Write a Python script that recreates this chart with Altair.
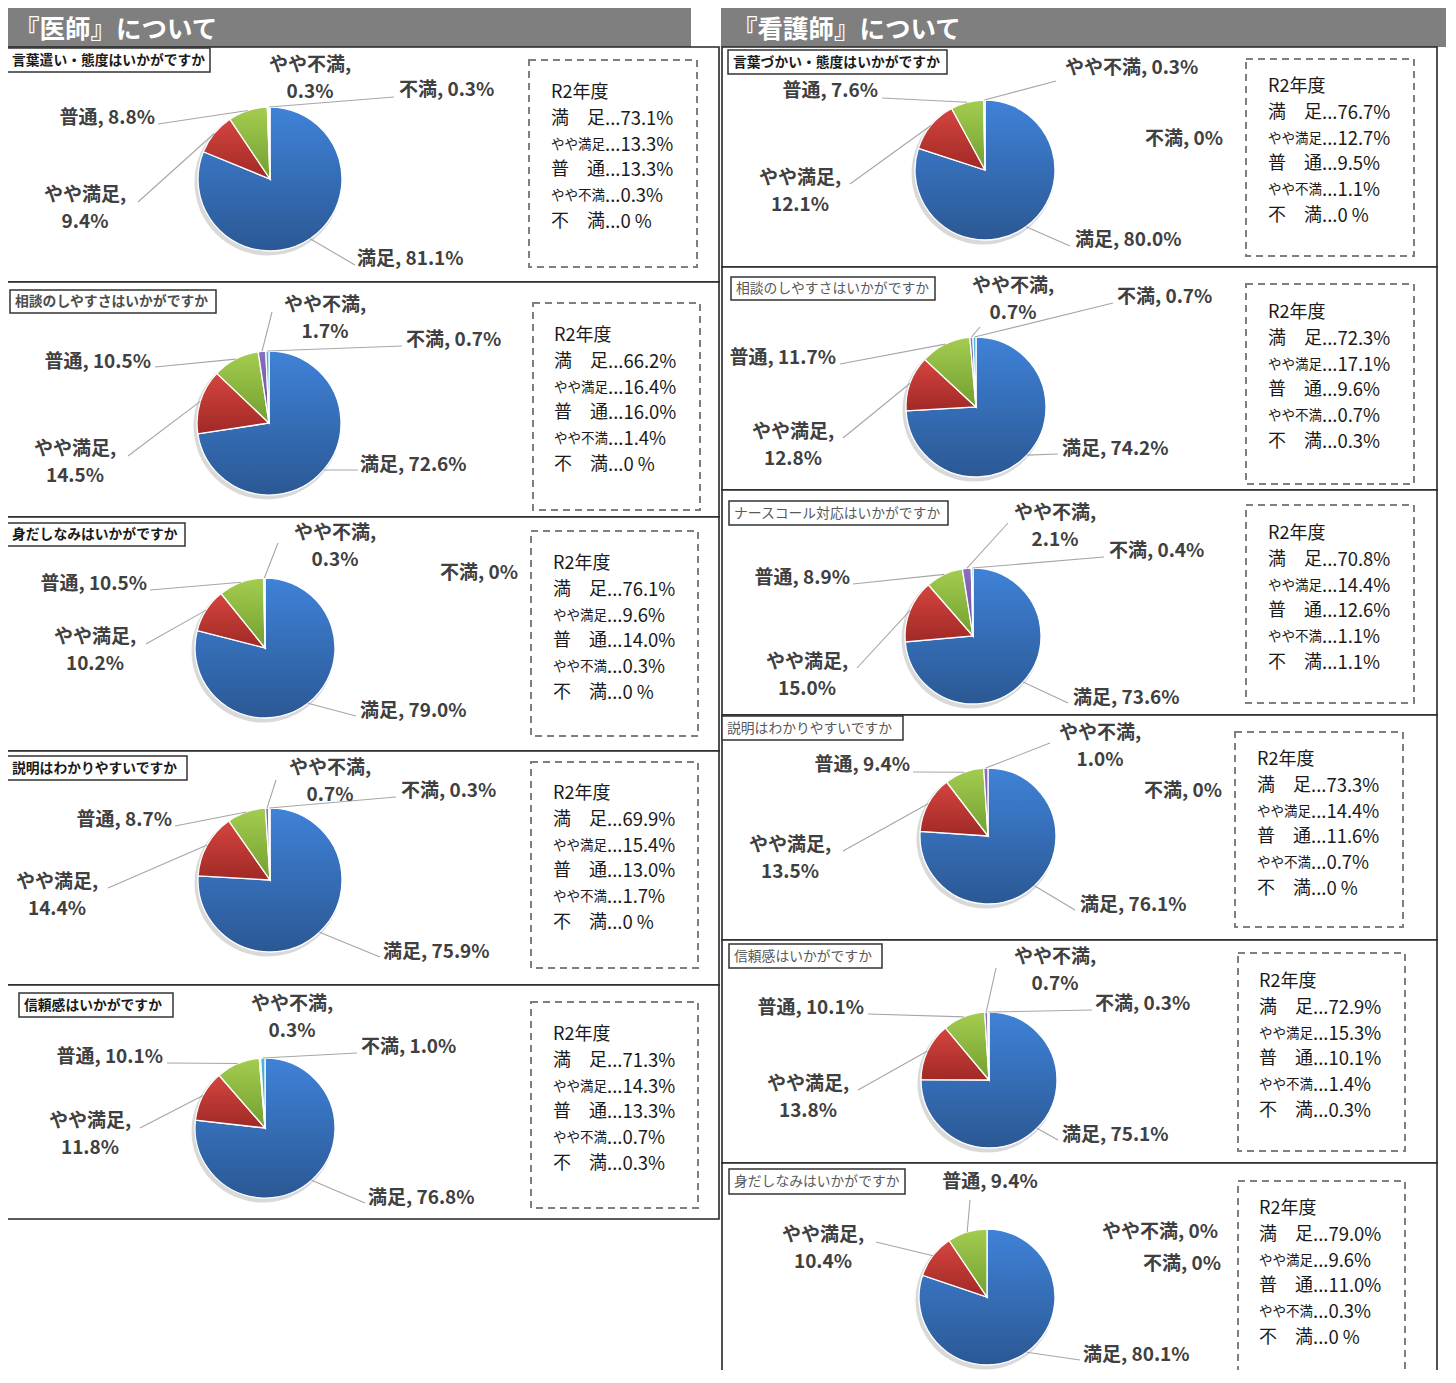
import math
import altair as alt
import pandas as pd

FONT = "Noto Sans CJK JP"

# ---------------- data ----------------
CATS = ["満足", "やや満足", "普通", "やや不満", "不満"]
R2_NAMES = ["満　足", "やや満足", "普　通", "やや不満", "不　満"]

HEADERS = ["『医師』について", "『看護師』について"]

doc_titles = ["言葉遣い・態度はいかがですか", "相談のしやすさはいかがですか",
              "身だしなみはいかがですか", "説明はわかりやすいですか", "信頼感はいかがですか"]
doc_values = [
    [81.1, 9.4, 8.8, 0.3, 0.3],
    [72.6, 14.5, 10.5, 1.7, 0.7],
    [79.0, 10.2, 10.5, 0.3, 0.0],
    [75.9, 14.4, 8.7, 0.7, 0.3],
    [76.8, 11.8, 10.1, 0.3, 1.0],
]
doc_r2 = [
    [73.1, 13.3, 13.3, 0.3, 0.0],
    [66.2, 16.4, 16.0, 1.4, 0.0],
    [76.1, 9.6, 14.0, 0.3, 0.0],
    [69.9, 15.4, 13.0, 1.7, 0.0],
    [71.3, 14.3, 13.3, 0.7, 0.3],
]

nurse_titles = ["言葉づかい・態度はいかがですか", "相談のしやすさはいかがですか",
                "ナースコール対応はいかがですか", "説明はわかりやすいですか",
                "信頼感はいかがですか", "身だしなみはいかがですか"]
nurse_values = [
    [80.0, 12.1, 7.6, 0.3, 0.0],
    [74.2, 12.8, 11.7, 0.7, 0.7],
    [73.6, 15.0, 8.9, 2.1, 0.4],
    [76.1, 13.5, 9.4, 1.0, 0.0],
    [75.1, 13.8, 10.1, 0.7, 0.3],
    [80.1, 10.4, 9.4, 0.0, 0.0],
]
nurse_r2 = [
    [76.7, 12.7, 9.5, 1.1, 0.0],
    [72.3, 17.1, 9.6, 0.7, 0.3],
    [70.8, 14.4, 12.6, 1.1, 1.1],
    [73.3, 14.4, 11.6, 0.7, 0.0],
    [72.9, 15.3, 10.1, 1.4, 0.3],
    [79.0, 9.6, 11.0, 0.3, 0.0],
]

# ---------------- layout (reference pixel coordinates) ----------------
HEADER_BOXES = [(5, 691, 5, 47), (721, 1446, 5, 47)]
HEADER_TEXT_POS = [(14, 30), (732, 30)]

PANEL_BOXES = [
    (5, 719, 47, 282), (5, 719, 282, 517), (5, 719, 517, 751), (5, 719, 751, 985), (5, 719, 985, 1219),
    (722, 1437, 47, 267), (722, 1437, 267, 490), (722, 1437, 490, 715), (722, 1437, 715, 940),
    (722, 1437, 940, 1163), (722, 1437, 1163, 1400),
]
TITLE_BOXES = [
    (7, 210, 48, 72), (10, 216, 290, 313), (7, 185, 523, 546), (7, 187, 756, 780), (19, 173, 993, 1017),
    (728, 947, 50, 74), (731, 935, 277, 300), (729, 948, 501, 525), (722, 903, 716, 740),
    (729, 882, 944, 968), (729, 905, 1169, 1194),
]
TITLE_STYLE = [("bold", "#1a1a1a"), ("bold", "#4d4d4d"), ("bold", "#1a1a1a"), ("bold", "#1a1a1a"),
               ("bold", "#1a1a1a"), ("bold", "#1a1a1a"), ("normal", "#595959"), ("normal", "#595959"),
               ("normal", "#595959"), ("normal", "#595959"), ("normal", "#595959")]
R2_BOXES = [
    (529, 697, 60, 267, 551, 93), (533, 700, 303, 510, 554, 336), (531, 698, 531, 736, 553, 564),
    (531, 698, 762, 968, 553, 794), (531, 698, 1002, 1208, 553, 1035),
    (1246, 1414, 59, 256, 1268, 87), (1246, 1414, 284, 484, 1268, 313), (1246, 1414, 505, 703, 1268, 534),
    (1235, 1403, 732, 927, 1257, 760), (1238, 1405, 953, 1151, 1259, 982), (1238, 1405, 1181, 1380, 1259, 1209),
]
PIES = [
    (270, 179, 72), (269, 423, 72), (265, 648, 70), (270, 880, 72), (265, 1128, 70),
    (985, 170, 70), (976, 407, 70), (973, 636, 68), (988, 836, 68), (989, 1080, 68), (987, 1297, 68),
]
N = None
# per panel, per category: (kind, x, y, anchor_x, anchor_y)
LABELS = [
    [("L", 357, 259, 355, 265), ("C2", 85, 195, 138, 202), ("R", 155, 118, 158, 124), ("C2", 310, 65, N, N), ("L", 399, 90, 394, 97)],
    [("L", 360, 465, 358, 470), ("C2", 75, 449, 128, 456), ("R", 151, 362, 155, 367), ("C2", 325, 305, 272, 312), ("L", 406, 340, 402, 346)],
    [("L", 360, 711, 356, 716), ("C2", 95, 637, 146, 644), ("R", 147, 584, 150, 590), ("C2", 335, 533, 278, 543), ("L", 440, 573, N, N)],
    [("L", 383, 952, 380, 957), ("C2", 57, 882, 108, 888), ("R", 172, 820, 175, 826), ("C2", 330, 768, 276, 780), ("L", 401, 791, 396, 797)],
    [("L", 368, 1198, 365, 1203), ("C2", 90, 1121, 140, 1128), ("R", 163, 1057, 167, 1063), ("C2", 292, 1004, N, N), ("L", 361, 1047, 357, 1053)],
    [("L", 1075, 240, 1070, 246), ("C2", 800, 178, 850, 184), ("R", 878, 91, 882, 98), ("L", 1065, 68, 1056, 81), ("L", 1145, 139, N, N)],
    [("L", 1062, 449, 1058, 454), ("C2", 793, 432, 843, 438), ("R", 836, 358, 840, 364), ("C2", 1013, 286, 980, 327), ("L", 1117, 297, 1113, 303)],
    [("L", 1073, 698, 1068, 703), ("C2", 807, 662, 857, 668), ("R", 850, 578, 853, 584), ("C2", 1055, 513, 1008, 523), ("L", 1109, 551, 1104, 557)],
    [("L", 1080, 905, 1075, 910), ("C2", 790, 845, 843, 851), ("R", 910, 765, 913, 772), ("C2", 1100, 733, 1050, 743), ("L", 1144, 791, N, N)],
    [("L", 1062, 1135, 1058, 1140), ("C2", 808, 1084, 858, 1090), ("R", 864, 1008, 868, 1014), ("C2", 1055, 957, 996, 968), ("L", 1095, 1004, 1092, 1010)],
    [("L", 1083, 1355, 1080, 1360), ("C2", 823, 1235, 876, 1242), ("C", 990, 1182, 970, 1200), ("L", 1102, 1232, N, N), ("L", 1143, 1264, N, N)],
]

GRADS = [("#3f82d8", "#2b5894"), ("#d4453f", "#a12926"), ("#a4cc50", "#72a02f"),
         ("#8c6ec2", "#684c98"), ("#4bb9da", "#2d91b2")]

titles = doc_titles + nurse_titles
values = doc_values + nurse_values
r2vals = doc_r2 + nurse_r2


def fmt(v):
    return "0%" if v == 0 else f"{v:.1f}%"


def fmt_r2(v):
    return "0 %" if v == 0 else f"{v:.1f}%"


XS = alt.Scale(domain=[8, 1448])
YS = alt.Scale(domain=[8, 1370], reverse=True)
TS = alt.Scale(domain=[0, 1], range=[0, 2 * math.pi])


def rect_layer(df, **mark):
    return alt.Chart(df).mark_rect(**mark).encode(
        x=alt.X("x0:Q", scale=XS, axis=None), x2="x1:Q",
        y=alt.Y("y0:Q", scale=YS, axis=None), y2="y1:Q")


def text_layer(df, **mark):
    return alt.Chart(df).mark_text(font=FONT, baseline="middle", **mark).encode(
        x=alt.X("x:Q", scale=XS, axis=None), y=alt.Y("y:Q", scale=YS, axis=None), text="text:N")


layers = []

# headers
hdr = pd.DataFrame([dict(x0=a, x1=b, y0=c, y1=d) for a, b, c, d in HEADER_BOXES])
layers.append(rect_layer(hdr, fill="#7f7f7f"))
hdr_t = pd.DataFrame([dict(x=p[0], y=p[1], text=t) for p, t in zip(HEADER_TEXT_POS, HEADERS)])
layers.append(text_layer(hdr_t, align="left", fontSize=25.5, fontWeight="bold", color="white"))

# panel borders
pan = pd.DataFrame([dict(x0=a, x1=b, y0=c, y1=d) for a, b, c, d in PANEL_BOXES])
layers.append(rect_layer(pan, fill="white", stroke="#262626", strokeWidth=1.6))

# title boxes
tb = pd.DataFrame([dict(x0=a, x1=b, y0=c, y1=d) for a, b, c, d in TITLE_BOXES])
layers.append(rect_layer(tb, fill="white", stroke="#333333", strokeWidth=1.5))
for wt, col in sorted(set(TITLE_STYLE)):
    rows = [dict(x=bx[0] + 5, y=(bx[2] + bx[3]) / 2 + 0.5, text=t)
            for bx, t, st in zip(TITLE_BOXES, titles, TITLE_STYLE) if st == (wt, col)]
    layers.append(text_layer(pd.DataFrame(rows), align="left", fontSize=13.8, fontWeight=wt, color=col))

# R2 dashed boxes
rb = pd.DataFrame([dict(x0=b[0], x1=b[1], y0=b[2], y1=b[3]) for b in R2_BOXES])
layers.append(rect_layer(rb, fillOpacity=0, stroke="#7f7f7f", strokeWidth=2, strokeDash=[7, 5]))

r2_head, r2_big, r2_small, r2_val = [], [], [], []
STEP = 25.8
for b, vals in zip(R2_BOXES, r2vals):
    tx, ty = b[4], b[5]
    r2_head.append(dict(x=tx, y=ty, text="R2年度"))
    for k, (nm, v) in enumerate(zip(R2_NAMES, vals)):
        yy = ty + STEP * (k + 1)
        (r2_small if nm.startswith("やや") else r2_big).append(dict(x=tx, y=yy, text=nm))
        r2_val.append(dict(x=tx + 54, y=yy, text="..." + fmt_r2(v)))
layers.append(text_layer(pd.DataFrame(r2_head), align="left", fontSize=18, color="#1a1a1a"))
layers.append(text_layer(pd.DataFrame(r2_big), align="left", fontSize=18, color="#1a1a1a"))
layers.append(text_layer(pd.DataFrame(r2_small), align="left", fontSize=13.5, color="#1a1a1a"))
layers.append(text_layer(pd.DataFrame(r2_val), align="left", fontSize=18.5, color="#1a1a1a"))

# pies
prow = []
for p, (vals, pie, labs) in enumerate(zip(values, PIES, LABELS)):
    for k, cat in enumerate(CATS):
        prow.append(dict(pid=p, cat=cat, order=k, v=vals[k], cx=pie[0], cy=pie[1], r=pie[2],
                         ax=labs[k][3], ay=labs[k][4]))
pie_df = pd.DataFrame(prow)

base = alt.Chart(pie_df).transform_joinaggregate(
    total="sum(v)", groupby=["pid"]
).transform_window(
    cum="sum(v)", sort=[alt.SortField("order")], groupby=["pid"]
).transform_calculate(
    t0="(datum.cum - datum.v) / datum.total",
    t1="datum.cum / datum.total",
    mid="(datum.cum - datum.v / 2) / datum.total",
)

# soft shadow under each pie (full disc, slightly offset)
layers.append(
    base.transform_filter("datum.order == 0").transform_calculate(
        sx="datum.cx - 2", sy="datum.cy + 3", rr="datum.r + 1.5", z0="0", z1="1"
    ).mark_arc(fill="#d9d9d9").encode(
        x=alt.X("sx:Q", scale=XS, axis=None), y=alt.Y("sy:Q", scale=YS, axis=None),
        theta=alt.Theta("z0:Q", scale=TS), theta2="z1:Q",
        radius=alt.Radius("rr:Q", scale=None))
)

for k, cat in enumerate(CATS):
    g = alt.Gradient(gradient="linear", x1=0, y1=0, x2=0, y2=1,
                     stops=[alt.GradientStop(color=GRADS[k][0], offset=0),
                            alt.GradientStop(color=GRADS[k][1], offset=1)])
    layers.append(
        base.transform_filter(f"datum.order == {k} && datum.v > 0").mark_arc(
            fill=g, stroke="white", strokeWidth=1.3
        ).encode(
            x=alt.X("cx:Q", scale=XS, axis=None), y=alt.Y("cy:Q", scale=YS, axis=None),
            theta=alt.Theta("t0:Q", scale=TS), theta2="t1:Q",
            radius=alt.Radius("r:Q", scale=None))
    )

# leader lines
layers.append(
    base.transform_filter("isValid(datum.ax)").transform_calculate(
        sx="datum.cx + datum.r * sin(2 * PI * datum.mid)",
        sy="datum.cy - datum.r * cos(2 * PI * datum.mid)",
    ).mark_rule(color="#a6a6a6", strokeWidth=1.1).encode(
        x=alt.X("sx:Q", scale=XS, axis=None), y=alt.Y("sy:Q", scale=YS, axis=None),
        x2="ax:Q", y2="ay:Q")
)

# data labels
lab_rows = {"left": [], "right": [], "center": []}
for p, (vals, labs) in enumerate(zip(values, LABELS)):
    for k, cat in enumerate(CATS):
        kind, x, y = labs[k][0], labs[k][1], labs[k][2]
        if kind == "C2":
            lab_rows["center"].append(dict(x=x, y=y, text=f"{cat},"))
            lab_rows["center"].append(dict(x=x, y=y + 27, text=fmt(vals[k])))
        else:
            al = {"L": "left", "R": "right", "C": "center"}[kind]
            lab_rows[al].append(dict(x=x, y=y, text=f"{cat}, {fmt(vals[k])}"))
for al, rows in lab_rows.items():
    layers.append(text_layer(pd.DataFrame(rows), align=al, fontSize=19, fontWeight="bold", color="#404040"))

chart = alt.layer(*layers).properties(
    width=1440, height=1362, padding=0,
    autosize=alt.AutoSizeParams(type="none"), background="white"
).configure_view(strokeWidth=0)

chart.save("out.html", embed_options={"renderer": "svg", "actions": False})
